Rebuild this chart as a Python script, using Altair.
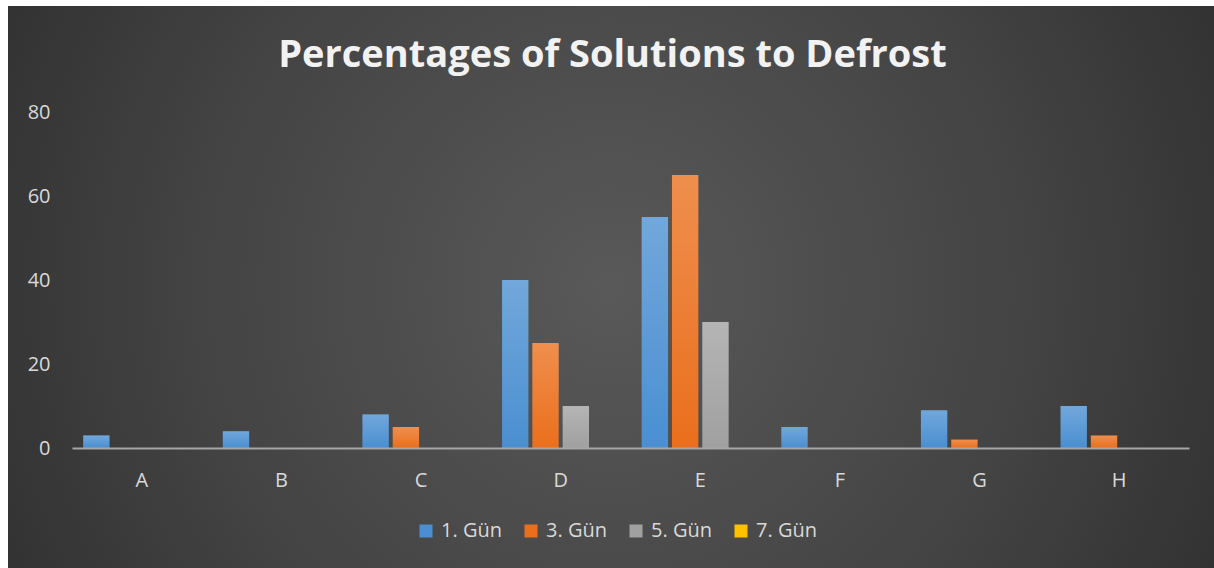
import altair as alt
import pandas as pd

categories = ["A", "B", "C", "D", "E", "F", "G", "H"]
series = ["1. Gün", "3. Gün", "5. Gün", "7. Gün"]
gun1 = [3, 4, 8, 40, 55, 5, 9, 10]
gun3 = [0, 0, 5, 25, 65, 0, 2, 3]
gun5 = [0, 0, 0, 10, 30, 0, 0, 0]
gun7 = [0, 0, 0, 0, 0, 0, 0, 0]
colors = ["#4a8fd1", "#ea6f1c", "#a0a0a0", "#ffc000"]
title_text = "Percentages of Solutions to Defrost"

rows = []
for s, vals in zip(series, [gun1, gun3, gun5, gun7]):
    for c, v in zip(categories, vals):
        rows.append({"cat": c, "series": s, "value": v})
df = pd.DataFrame(rows)

W, H = 1117, 336
FONT = "Open Sans"

bg_grad = alt.RadialGradient(
    gradient="radial",
    stops=[
        alt.GradientStop(offset=0, color="#595959"),
        alt.GradientStop(offset=0.5, color="#434343"),
        alt.GradientStop(offset=1, color="#262626"),
    ],
    x1=0.5, y1=0.5, r1=0, x2=0.5, y2=0.5, r2=0.7,
)

background = alt.Chart(alt.Data(values=[{}])).mark_rect(fill=bg_grad).encode(
    x=alt.value(-64), x2=alt.value(1214 - 72),
    y=alt.value(-106), y2=alt.value(568 - 112),
)

x_enc = alt.X(
    "cat:N",
    sort=categories,
    scale=alt.Scale(paddingInner=0.16, paddingOuter=0.08),
    axis=alt.Axis(
        title=None, labelAngle=0, ticks=False, domain=True,
        domainColor="#a6a6a6", domainWidth=2, labelPadding=22,
        labelFont=FONT, labelFontSize=20, labelColor="#d9d9d9", grid=False,
        zindex=2,
    ),
)
xo_enc = alt.XOffset("series:N", sort=series,
                     scale=alt.Scale(domain=series, paddingInner=0.13, paddingOuter=0))
y_enc = alt.Y(
    "value:Q",
    scale=alt.Scale(domain=[0, 80]),
    axis=alt.Axis(
        title=None, values=[0, 20, 40, 60, 80], domain=False, ticks=False,
        grid=False, labelPadding=22, labelFont=FONT, labelFontSize=20,
        labelColor="#d9d9d9", zindex=2,
    ),
)

bars = alt.Chart(df).mark_bar().encode(
    x=x_enc, xOffset=xo_enc, y=y_enc,
    color=alt.Color(
        "series:N",
        sort=series,
        scale=alt.Scale(domain=series, range=colors),
        legend=alt.Legend(
            title=None, orient="none", direction="horizontal",
            legendX=344, legendY=409, symbolType="square", symbolSize=169,
            symbolStrokeWidth=0, labelFont=FONT, labelFontSize=20,
            labelColor="#d9d9d9", columnPadding=19, labelOffset=5, zindex=2,
        ),
    ),
)

shine_grad = alt.LinearGradient(
    gradient="linear",
    stops=[
        alt.GradientStop(offset=0, color="rgba(255,255,255,0.22)"),
        alt.GradientStop(offset=1, color="rgba(255,255,255,0)"),
    ],
    x1=0, x2=0, y1=0, y2=1,
)
shine = alt.Chart(df).mark_bar(fill=shine_grad).encode(
    x=alt.X("cat:N", sort=categories), xOffset=alt.XOffset("series:N", sort=series), y="value:Q"
)

title = alt.Chart(alt.Data(values=[{}])).mark_text(
    text=title_text, font=FONT, fontSize=38, fontWeight="bold",
    color="#f2f2f2", align="center", baseline="alphabetic",
).encode(x=alt.value(540.5), y=alt.value(-45))

chart = alt.layer(background, bars, shine, title).properties(
    width=W, height=H,
    autosize=alt.AutoSizeParams(type="none"),
    padding={"left": 72, "top": 112, "right": 1214 - 72 - W, "bottom": 568 - 112 - H},
    background="#ffffff",
).configure_view(stroke=None)

chart.save("out.html", embed_options={"renderer": "svg", "actions": False})
